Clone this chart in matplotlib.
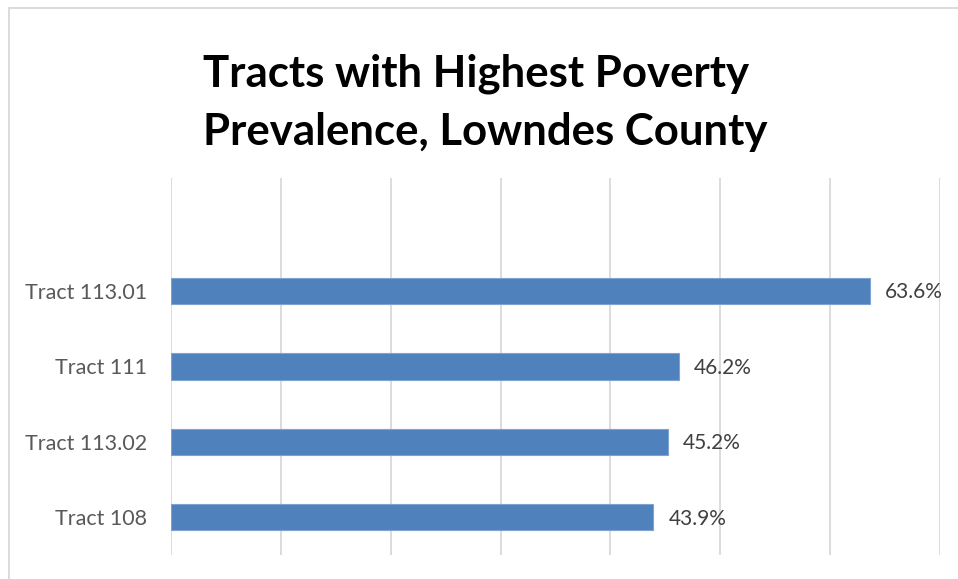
import matplotlib.pyplot as plt
from matplotlib.patches import Rectangle

tracts = ['Tract 113.01', 'Tract 111', 'Tract 113.02', 'Tract 108']
poverty = [63.6, 46.2, 45.2, 43.9]
labels = ['63.6%', '46.2%', '45.2%', '43.9%']

plt.rcParams['font.family'] = ['Lato', 'DejaVu Sans']

W, H = 958, 579
fig = plt.figure(figsize=(W / 100, H / 100), dpi=100)
ax = fig.add_axes([171 / W, 1 - 555 / H, (940 - 171) / W, (555 - 178) / H])

pos = list(range(len(tracts)))
ax.barh(pos, poverty, height=0.35, color='#4F81BD', edgecolor='#7FA3D1', linewidth=0.8, zorder=3)
for p, v, t in zip(pos, poverty, labels):
    ax.annotate(t, (v, p), xytext=(11, -1), textcoords='offset points',
                va='center', ha='left', fontsize=15, color='#404040')

ax.set_xlim(0, 70)
ax.set_ylim(3.5, -1.5)
ax.set_xticks(range(0, 71, 10))
ax.set_xticklabels([])
ax.set_yticks(pos)
ax.set_yticklabels(tracts, fontsize=15.5, color='#595959')
ax.tick_params(axis='both', length=0)
ax.tick_params(axis='y', pad=17)
ax.grid(axis='x', color='#D9D9D9', linewidth=1.3, zorder=0)
for s in ax.spines.values():
    s.set_visible(False)

fig.text(203 / W, 1 - 103 / H, 'Tracts with Highest Poverty\nPrevalence, Lowndes County',
         ha='left', va='center', multialignment='left', fontsize=31.5,
         fontweight='bold', linespacing=1.55)

# chart frame
fig.patches.append(Rectangle((9 / W, -0.1), 1.2, 1 - 8 / H + 0.1, transform=fig.transFigure,
                             fill=False, edgecolor='#D9D9D9', linewidth=1.3))

fig.savefig('out.png', dpi=100)
